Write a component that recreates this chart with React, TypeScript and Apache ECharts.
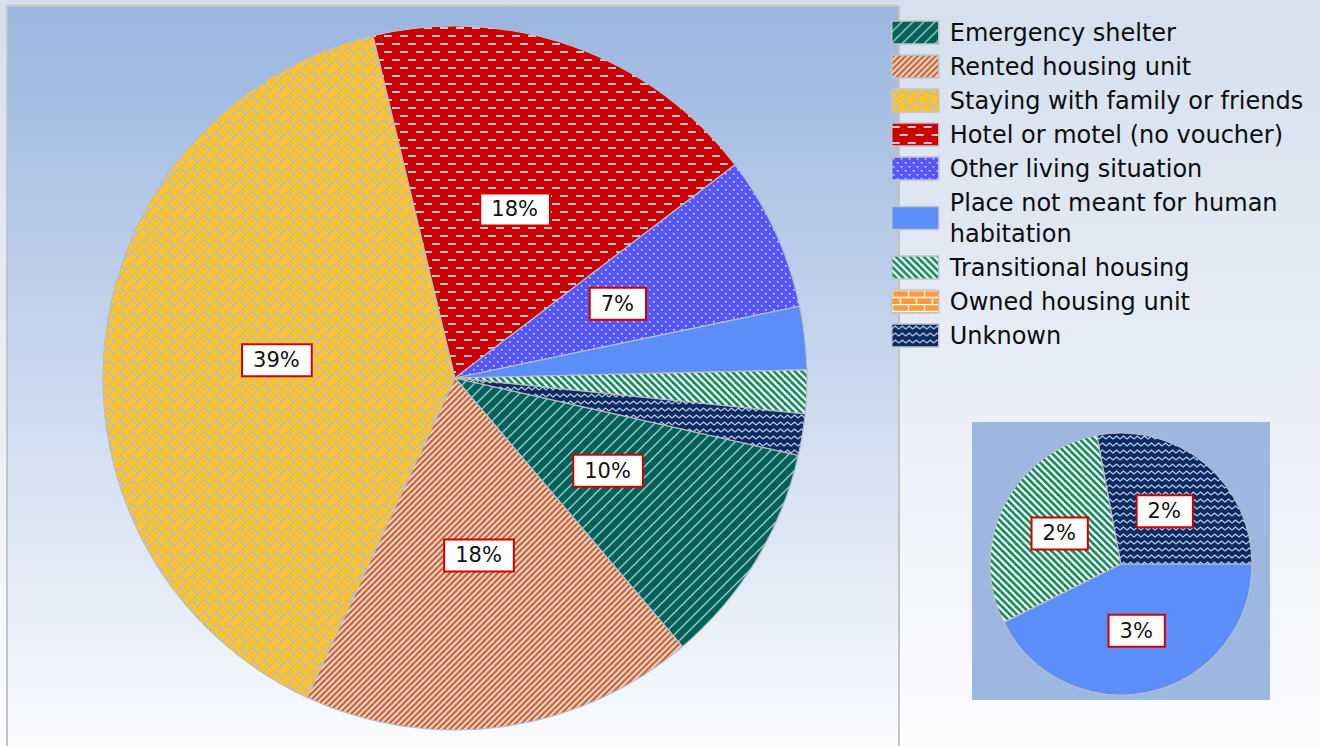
import React, { useEffect, useRef } from 'react';
import * as echarts from 'echarts';

const categories = [
  'Emergency shelter',
  'Rented housing unit',
  'Staying with family or friends',
  'Hotel or motel (no voucher)',
  'Other living situation',
  'Place not meant for human habitation',
  'Transitional housing',
  'Owned housing unit',
  'Unknown',
];
const legendLabels = [
  'Emergency shelter',
  'Rented housing unit',
  'Staying with family or friends',
  'Hotel or motel (no voucher)',
  'Other living situation',
  'Place not meant for human\nhabitation',
  'Transitional housing',
  'Owned housing unit',
  'Unknown',
];
// percent of all households
const shares = [10.3, 18.1, 39.4, 18.4, 7.1, 2.9, 2.0, 0, 1.9];
// categories broken out in the small pie
const detailCategories = ['Place not meant for human habitation', 'Transitional housing', 'Unknown'];

const baseColors = ['#00625a', '#d2602c', '#ffc328', '#cc0000', '#5656ff', '#5b8ef8', '#178a5e', '#ff9a3a', '#0c2b63'];
const lineColors = ['#a8c6c4', '#dcd6d4', '#b4bdcc', '#c9c6d6', '#dcdcff', '', '#eef3f1', '#ffffff', '#c3cde6'];
const patternKinds = ['wideForward', 'fineForward', 'diagonalBrick', 'dashes', 'dots', 'solid', 'fineBackward', 'brick', 'waves'];

function tile(w: number, h: number, draw: (ctx: CanvasRenderingContext2D) => void) {
  const c = document.createElement('canvas');
  c.width = w;
  c.height = h;
  const ctx = c.getContext('2d') as CanvasRenderingContext2D;
  draw(ctx);
  return { image: c.toDataURL(), imageWidth: w, imageHeight: h, repeat: 'repeat' };
}

function makeFill(kind: string, base: string, line: string): any {
  switch (kind) {
    case 'wideForward':
    case 'fineForward': {
      const T = kind === 'wideForward' ? 11 : 6;
      const lw = kind === 'wideForward' ? 1.4 : 2.1;
      return tile(T, T, (ctx) => {
        ctx.fillStyle = base;
        ctx.fillRect(0, 0, T, T);
        ctx.strokeStyle = line;
        ctx.lineWidth = lw;
        for (const o of [-T, 0, T]) {
          ctx.beginPath();
          ctx.moveTo(o - 2, T + 2);
          ctx.lineTo(o + T + 2, -2);
          ctx.stroke();
        }
      });
    }
    case 'fineBackward': {
      const T = 7;
      return tile(T, T, (ctx) => {
        ctx.fillStyle = base;
        ctx.fillRect(0, 0, T, T);
        ctx.strokeStyle = line;
        ctx.lineWidth = 2.3;
        for (const o of [-T, 0, T]) {
          ctx.beginPath();
          ctx.moveTo(o - 2, -2);
          ctx.lineTo(o + T + 2, T + 2);
          ctx.stroke();
        }
      });
    }
    case 'diagonalBrick': {
      const T = 12;
      const H = T / Math.SQRT2;
      const L = 2 * H;
      return tile(T, T, (ctx) => {
        ctx.fillStyle = base;
        ctx.fillRect(0, 0, T, T);
        ctx.strokeStyle = line;
        ctx.lineWidth = 1.5;
        ctx.rotate(-Math.PI / 4);
        for (let k = -6; k <= 6; k++) {
          ctx.beginPath();
          ctx.moveTo(-60, k * H);
          ctx.lineTo(60, k * H);
          ctx.stroke();
          for (let j = -6; j <= 6; j++) {
            const x = j * L + (k & 1 ? L / 2 : 0);
            ctx.beginPath();
            ctx.moveTo(x, k * H);
            ctx.lineTo(x, (k + 1) * H);
            ctx.stroke();
          }
        }
      });
    }
    case 'dashes':
      return tile(16, 16, (ctx) => {
        ctx.fillStyle = base;
        ctx.fillRect(0, 0, 16, 16);
        ctx.fillStyle = line;
        ctx.fillRect(0, 3, 8, 2);
        ctx.fillRect(8, 11, 8, 2);
      });
    case 'dots':
      return tile(8, 8, (ctx) => {
        ctx.fillStyle = base;
        ctx.fillRect(0, 0, 8, 8);
        ctx.fillStyle = line;
        ctx.fillRect(1, 1, 1.6, 1.6);
        ctx.fillRect(5, 5, 1.6, 1.6);
      });
    case 'brick':
      return tile(16, 14, (ctx) => {
        ctx.fillStyle = base;
        ctx.fillRect(0, 0, 16, 14);
        ctx.strokeStyle = line;
        ctx.lineWidth = 1.5;
        ctx.beginPath();
        ctx.moveTo(0, 0.5); ctx.lineTo(16, 0.5);
        ctx.moveTo(0, 7.5); ctx.lineTo(16, 7.5);
        ctx.moveTo(0.5, 0); ctx.lineTo(0.5, 7.5);
        ctx.moveTo(8.5, 7.5); ctx.lineTo(8.5, 14);
        ctx.stroke();
      });
    case 'waves':
      return tile(7, 7, (ctx) => {
        ctx.fillStyle = base;
        ctx.fillRect(0, 0, 7, 7);
        ctx.strokeStyle = line;
        ctx.lineWidth = 1.3;
        ctx.beginPath();
        ctx.moveTo(-3.5, 2);
        ctx.lineTo(0, 5);
        ctx.lineTo(3.5, 2);
        ctx.lineTo(7, 5);
        ctx.lineTo(10.5, 2);
        ctx.stroke();
      });
    default:
      return base;
  }
}

const labelStyle = {
  position: 'inside',
  fontFamily: 'DejaVu Sans',
  fontSize: 21,
  lineHeight: 23,
  color: '#111111',
  backgroundColor: '#ffffff',
  borderColor: '#d40000',
  borderWidth: 2,
  padding: [4, 11, 3, 10],
};

export default function App() {
  const ref = useRef<HTMLDivElement>(null);

  useEffect(() => {
    document.body.style.margin = '0';
    if (!ref.current) return;
    const chart = echarts.init(ref.current, null, { renderer: 'svg' });
    const fills = categories.map((_, i) => makeFill(patternKinds[i], baseColors[i], lineColors[i]));

    const mainData = categories.map((name, i) => ({
      name,
      value: shares[i],
      itemStyle: { color: fills[i] },
      label: { show: shares[i] >= 5 },
    }));
    const detailData = detailCategories.map((name) => {
      const i = categories.indexOf(name);
      return { name, value: shares[i], itemStyle: { color: fills[i] } };
    });

    const formatter = (p: any) => Math.round(p.value) + '%';

    chart.setOption({
      animation: false,
      graphic: [
        {
          type: 'rect',
          z: -10,
          silent: true,
          shape: { x: 0, y: 0, width: 1320, height: 746 },
          style: {
            fill: new echarts.graphic.LinearGradient(0, 0, 0, 1, [
              { offset: 0, color: '#d5dfee' },
              { offset: 1, color: '#fbfcfe' },
            ]),
          },
        },
        {
          type: 'rect',
          z: -9,
          silent: true,
          shape: { x: 7, y: 6, width: 892, height: 752 },
          style: {
            fill: new echarts.graphic.LinearGradient(0, 0, 0, 1, [
              { offset: 0, color: '#9ab5e0' },
              { offset: 1, color: '#fbfcfe' },
            ]),
            stroke: '#c4c4c4',
            lineWidth: 2,
          },
        },
        {
          type: 'rect',
          z: -9,
          silent: true,
          shape: { x: 972, y: 422, width: 298, height: 278 },
          style: { fill: '#9db7e1' },
        },
      ],
      legend: {
        orient: 'vertical',
        left: 886,
        top: 12,
        icon: 'rect',
        itemWidth: 47,
        itemHeight: 23,
        itemGap: 3,
        selectedMode: false,
        data: categories,
        formatter: (name: string) => legendLabels[categories.indexOf(name)],
        itemStyle: { borderColor: '#c3c3c3', borderWidth: 1.5 },
        textStyle: {
          fontFamily: 'DejaVu Sans',
          fontSize: 24,
          lineHeight: 31,
          color: '#0d0d0d',
          padding: [0, 0, 0, 6],
        },
      },
      series: [
        {
          type: 'pie',
          center: [455, 378],
          radius: 352,
          startAngle: -12.7,
          clockwise: true,
          avoidLabelOverlap: false,
          emphasis: { disabled: true },
          itemStyle: { borderColor: '#b7bcc6', borderWidth: 1.2 },
          label: { ...labelStyle, formatter },
          labelLine: { show: false },
          data: mainData,
        },
        {
          type: 'pie',
          center: [1121, 564],
          radius: 131,
          startAngle: 0,
          clockwise: true,
          avoidLabelOverlap: false,
          emphasis: { disabled: true },
          itemStyle: { borderColor: '#b7bcc6', borderWidth: 1.2 },
          label: { ...labelStyle, formatter },
          labelLine: { show: false },
          data: detailData,
        },
      ],
    });
    return () => chart.dispose();
  }, []);

  return <div ref={ref} style={{ width: 1320, height: 746 }} />;
}
